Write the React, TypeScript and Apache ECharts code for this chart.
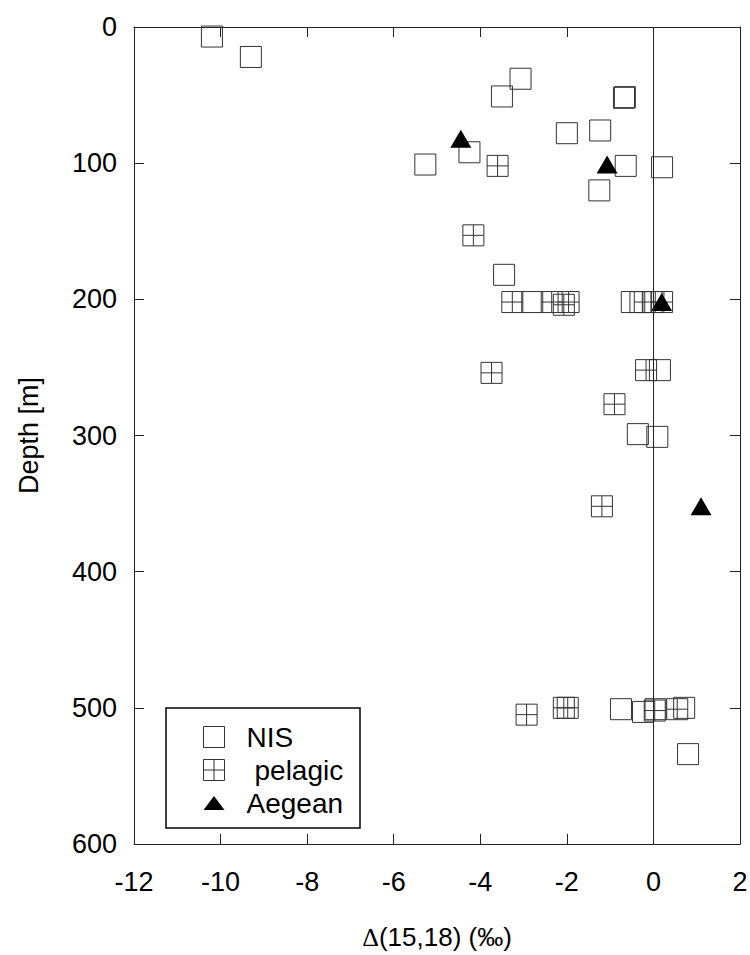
import React, { useEffect, useRef } from "react";
import * as echarts from "echarts";

// Δ(15,18) anomaly [‰] versus depth [m]
const nisData: [number, number][] = [
  [-10.2, 7], [-9.3, 22], [-3.07, 38], [-3.5, 51], [-0.68, 52], [-0.66, 51.5],
  [-2.0, 78], [-1.23, 76], [-4.25, 92], [-5.27, 101], [-0.64, 102], [0.2, 103],
  [-1.25, 120], [-3.45, 182], [-2.8, 202], [-0.5, 202], [-0.3, 202], [0.0, 202],
  [0.15, 252], [-0.36, 299], [0.09, 301], [-0.75, 501], [-0.24, 503], [0.05, 501],
  [0.71, 500], [0.8, 534],
];

const pelagicData: [number, number][] = [
  [-3.6, 102], [-4.16, 153], [-3.26, 202], [-2.35, 202], [-2.07, 204], [-1.96, 202],
  [-0.2, 202], [0.2, 202], [-3.74, 254], [-0.17, 252], [-0.9, 277], [-1.19, 352],
  [-2.93, 505], [-2.07, 500], [-1.98, 500], [0.03, 502], [0.55, 501],
];

const aegeanData: [number, number][] = [
  [-4.45, 82], [-1.07, 101], [0.19, 202], [1.1, 352],
];

const xMin = -12;
const xMax = 2;
const xStep = 2;
const yMin = 0;
const yMax = 600;
const yStep = 100;

const FONT = "Liberation Sans, Arial, sans-serif";
const INK = "#222";

const crossSquare = "path://M0 0H20V20H0Z M10 0V20 M0 10H20";
const triangleIcon = "path://M0 14L10.5 0L21 14Z";

export default function App() {
  const ref = useRef<HTMLDivElement>(null);

  useEffect(() => {
    if (!ref.current) return;
    const chart = echarts.init(ref.current, null, { renderer: "svg" });

    const axisCommon = {
      type: "value" as const,
      axisLine: { show: true, onZero: false, lineStyle: { color: INK, width: 1 } },
      axisTick: { show: true, inside: true, length: 10, lineStyle: { color: INK, width: 1 } },
      splitLine: { show: false },
    };

    const hollow = {
      color: "transparent",
      borderColor: "#333",
      borderWidth: 1,
      opacity: 1,
    };

    chart.setOption({
      animation: false,
      backgroundColor: "#fff",
      grid: {
        left: 134,
        top: 27,
        width: 606,
        height: 817,
        outerBoundsMode: "none",
      },
      xAxis: [
        {
          ...axisCommon,
          position: "bottom",
          min: xMin,
          max: xMax,
          interval: xStep,
          axisLabel: { show: true, color: "#000", fontSize: 27, fontFamily: FONT, margin: 24 },
          name: "{d|Δ}(15,18) (‰)",
          nameLocation: "middle",
          nameGap: 80,
          nameTextStyle: {
            color: "#000",
            fontSize: 26,
            fontFamily: FONT,
            rich: {
              d: { fontSize: 26, fontFamily: "Liberation Serif, DejaVu Serif, serif", color: "#000" },
            },
          },
        },
        {
          ...axisCommon,
          position: "top",
          min: xMin,
          max: xMax,
          interval: xStep,
          axisLabel: { show: false },
        },
      ],
      yAxis: [
        {
          ...axisCommon,
          position: "left",
          inverse: true,
          min: yMin,
          max: yMax,
          interval: yStep,
          axisLabel: { show: true, color: "#000", fontSize: 27, fontFamily: FONT, margin: 17 },
          name: "Depth [m]",
          nameLocation: "middle",
          nameGap: 92,
          nameRotate: 90,
          nameTextStyle: { color: "#000", fontSize: 27, fontFamily: FONT },
        },
        {
          ...axisCommon,
          position: "right",
          inverse: true,
          min: yMin,
          max: yMax,
          interval: yStep,
          axisLabel: { show: false },
        },
      ],
      legend: {
        orient: "vertical",
        left: 198,
        top: 718,
        itemWidth: 21,
        itemHeight: 21,
        itemGap: 5,
        symbolKeepAspect: true,
        selectedMode: false,
        textStyle: {
          color: "#000",
          fontSize: 28,
          fontFamily: FONT,
          lineHeight: 28,
          padding: [0, 0, 0, 17],
        },
        data: [
          { name: "NIS", icon: "rect", itemStyle: { ...hollow } },
          {
            name: "pelagic",
            icon: crossSquare,
            itemStyle: { ...hollow },
            textStyle: { padding: [0, 0, 0, 25] },
          },
          { name: "Aegean", icon: triangleIcon, itemStyle: { color: "#000", borderWidth: 0, opacity: 1 } },
        ],
      },
      graphic: [
        {
          type: "rect",
          z: 3,
          shape: { x: 166, y: 708, width: 194, height: 120 },
          style: { fill: "#fff", stroke: "#000", lineWidth: 1.5 },
        },
      ],
      series: [
        {
          name: "NIS",
          type: "scatter",
          data: nisData,
          symbol: "rect",
          symbolSize: 21,
          itemStyle: { ...hollow },
          z: 2,
          markLine: {
            silent: true,
            symbol: "none",
            label: { show: false },
            lineStyle: { color: INK, width: 1, type: "solid", opacity: 1 },
            data: [{ xAxis: 0 }],
          },
        },
        {
          name: "pelagic",
          type: "scatter",
          data: pelagicData,
          symbol: crossSquare,
          symbolSize: 21,
          itemStyle: { ...hollow },
          z: 2,
        },
        {
          name: "Aegean",
          type: "scatter",
          data: aegeanData,
          symbol: "triangle",
          symbolSize: [21, 18],
          itemStyle: { color: "#000", opacity: 1 },
          z: 3,
        },
      ],
    });

    return () => chart.dispose();
  }, []);

  return (
    <div
      ref={ref}
      style={{ position: "fixed", left: 0, top: 0, width: 750, height: 955, background: "#fff" }}
    />
  );
}
